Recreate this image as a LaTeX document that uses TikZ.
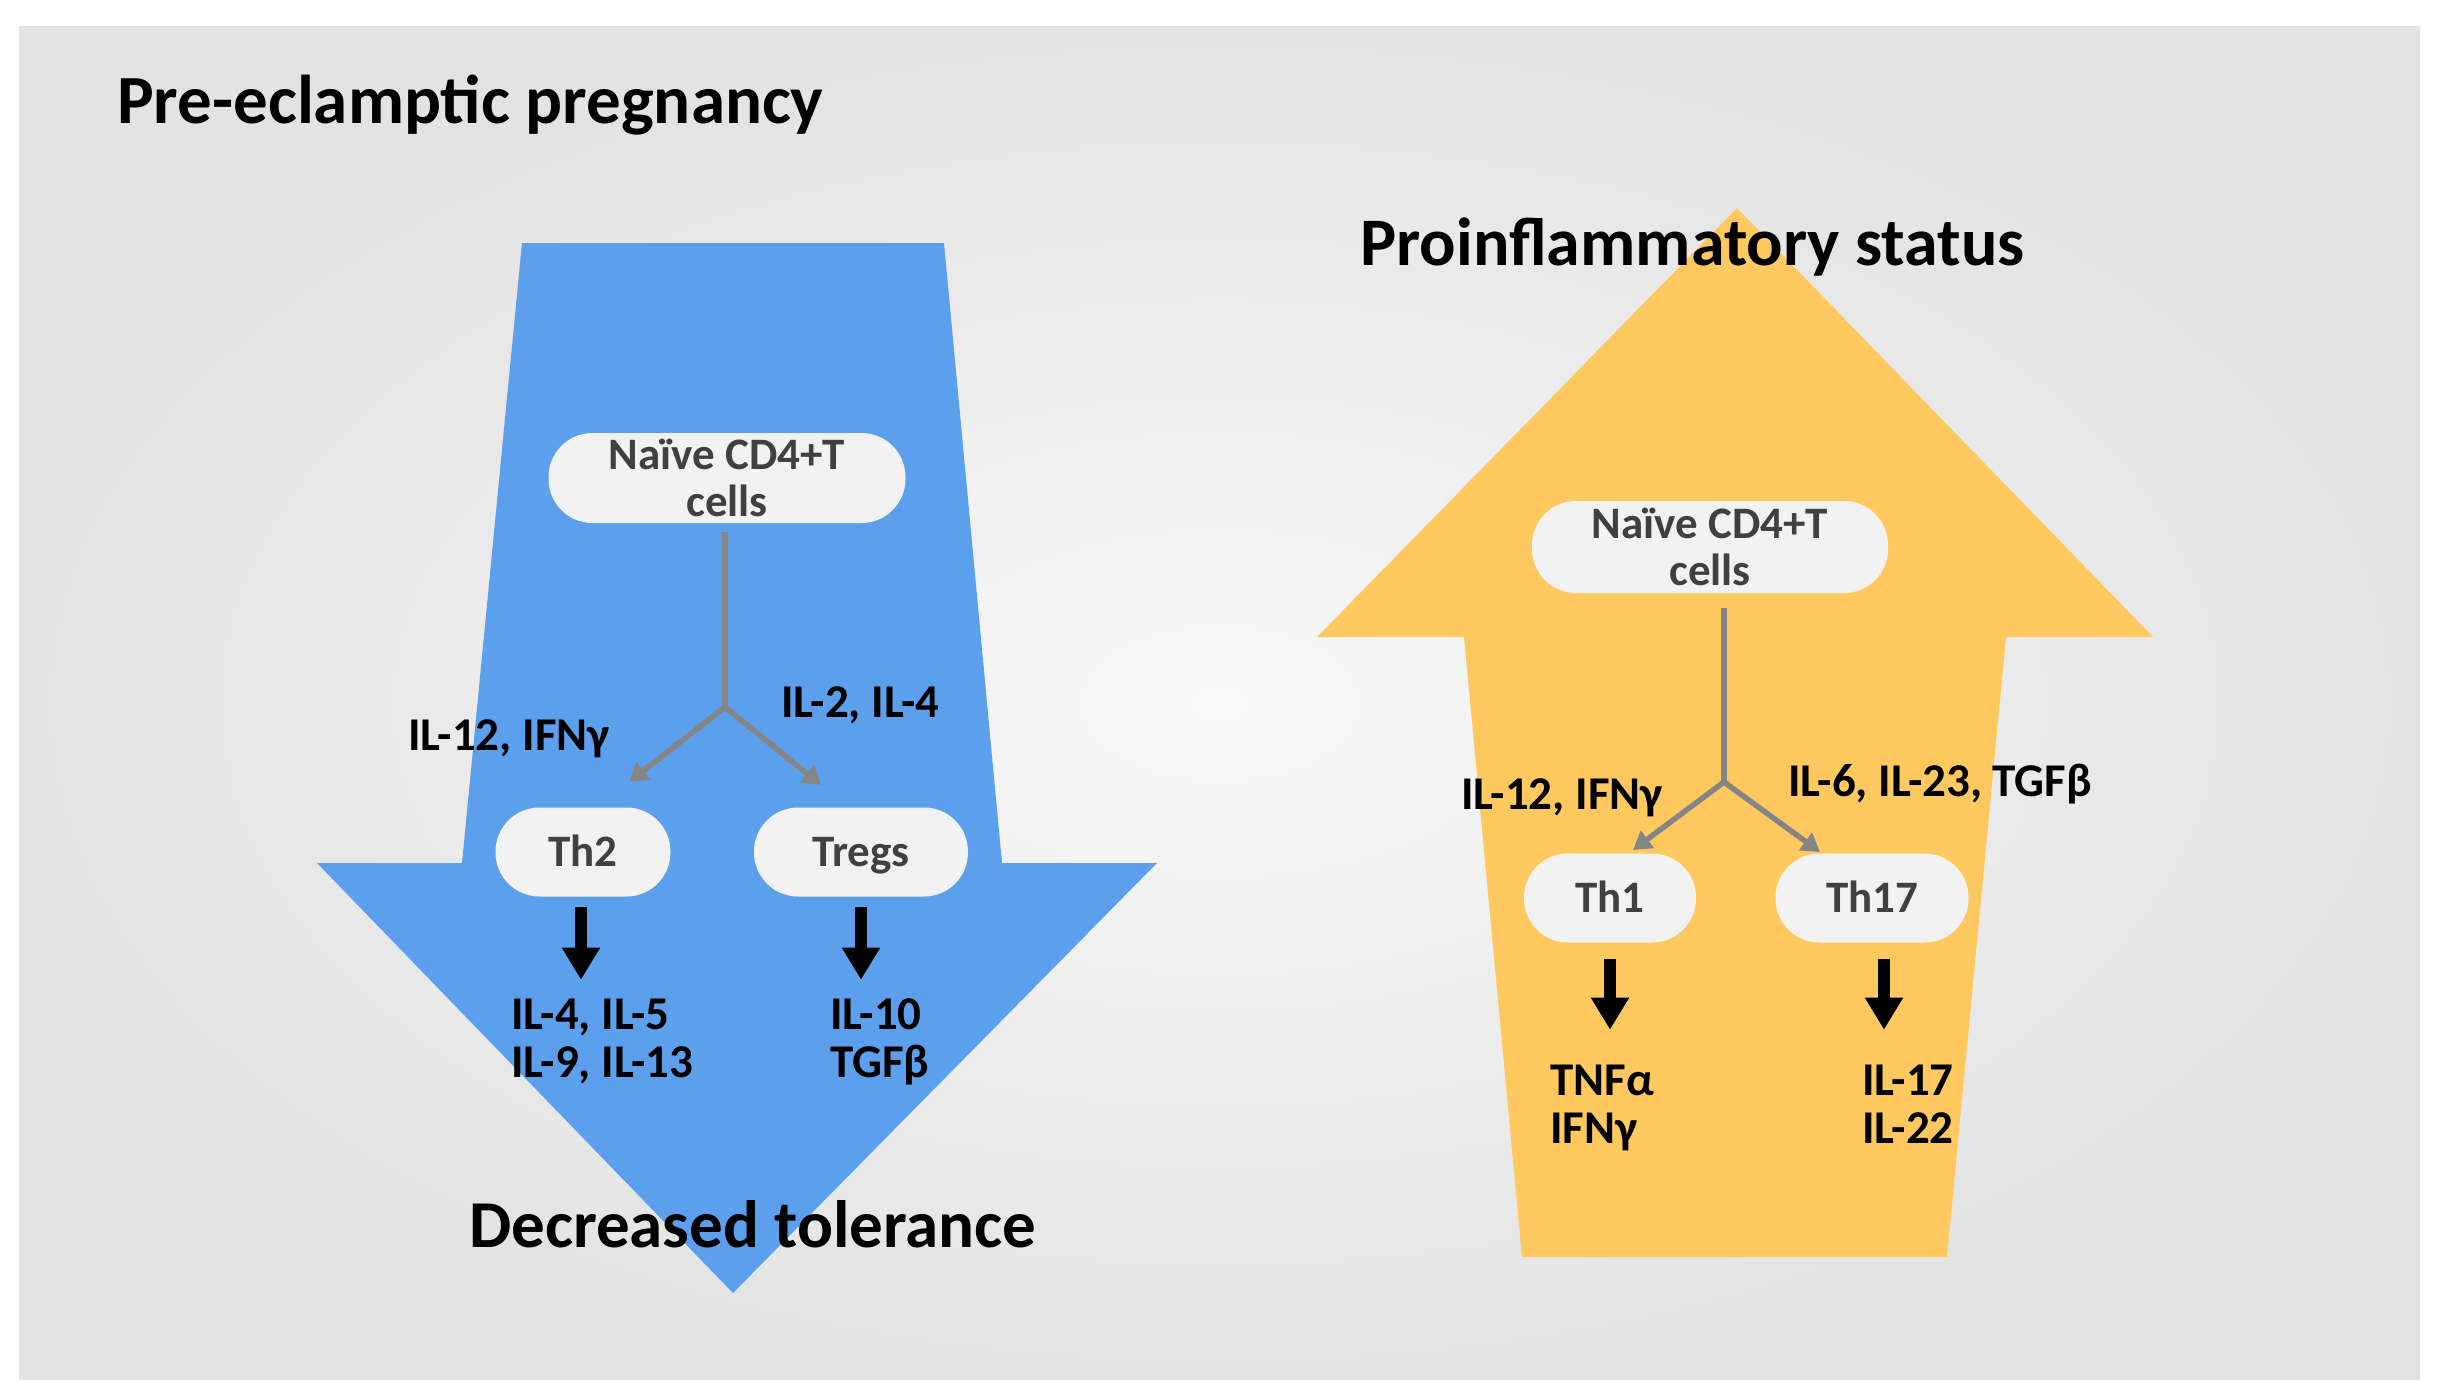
\documentclass[tikz,border=0pt]{standalone}
\usepackage{fontspec}
\setmainfont{Carlito}
\usetikzlibrary{arrows.meta}
\definecolor{bgin}{HTML}{F8F8F8}
\definecolor{bgout}{HTML}{E3E3E3}
\definecolor{blueA}{HTML}{5C9FEC}
\definecolor{orangeA}{HTML}{FFC960}
\definecolor{boxfill}{HTML}{F2F2F2}
\definecolor{boxtext}{HTML}{404040}
\definecolor{conn}{HTML}{858585}
\tikzset{
  cellbox/.style={fill=boxfill, rounded corners=44pt, inner sep=0pt, text=boxtext,
    font=\bfseries\fontsize{45}{47}\selectfont, align=center},
  onecell/.style={cellbox, text height=28pt, text depth=0pt},
  lbl/.style={inner sep=0pt, anchor=base west, font=\bfseries\fontsize{47}{48}\selectfont, align=left},
  ttl/.style={inner sep=0pt, anchor=base west, font=\bfseries\fontsize{68}{72}\selectfont},
  grayarr/.style={draw=conn, line width=5.5pt, -{Triangle[width=21pt,length=18pt]}},
  grayline/.style={draw=conn, line width=5.5pt},
  blkarr/.style={draw=black, line width=12pt, -{Triangle[width=36pt,length=32pt]}}
}
\begin{document}
\begin{tikzpicture}[x=1pt,y=-1pt]
\useasboundingbox (0,0) rectangle (2449,1397);
\fill[white] (0,0) rectangle (2449,1397);
\shade[inner color=bgin, outer color=bgout] (19,27) rectangle (2420,1379);
% big arrows
\fill[blueA] (522,243) -- (944,243) -- (1002,863) -- (1157,863) -- (733,1293) -- (317,863) -- (462,863) -- cycle;
\fill[orangeA] (1737,208) -- (2153,637) -- (2006,637) -- (1947,1257) -- (1522,1257) -- (1464,637) -- (1317,637) -- cycle;
% titles
\node[ttl, font=\bfseries\fontsize{69}{72}\selectfont] (t1) at (117,123) {Pre-eclamptic pregnancy};
\node[ttl, font=\bfseries\fontsize{68}{72}\selectfont] (t2) at (1360,265) {Proinflammatory status};
\node[ttl, font=\bfseries\fontsize{67}{72}\selectfont] (t3) at (469,1247) {Decreased tolerance};
% left panel
\node[cellbox, minimum width=357pt, minimum height=90pt] (nvL) at (727,478) {Naïve CD4+T\\cells};
\node[onecell, minimum width=175pt, minimum height=89pt] (th2) at (583,852) {Th2};
\node[onecell, minimum width=214pt, minimum height=89pt] (treg) at (861,852) {Tregs};
\coordinate (bL) at (725,707);
\coordinate (eL1) at (629,782);
\coordinate (eL2) at (821,785);
\draw[grayline, shorten <=9pt] (nvL.south -| bL) -- (bL);
\draw[grayarr] (bL) -- (eL1);
\draw[grayarr] (bL) -- (eL2);
\node[lbl] (lL1) at (408,750) {IL-12, IFNγ};
\node[lbl] (lL2) at (781,717) {IL-2, IL-4};
\draw[blkarr] ([xshift=-2pt,yshift=-10pt]th2.south) -- ++(0,73);
\draw[blkarr] ([yshift=-10pt]treg.south) -- ++(0,73);
\node[lbl] (cL1) at (511,1077) {IL-4, IL-5\\IL-9, IL-13};
\node[lbl] (cL2) at (830,1077) {IL-10\\TGFβ};
% right panel
\node[cellbox, minimum width=356pt, minimum height=92pt] (nvR) at (1710,547) {Naïve CD4+T\\cells};
\node[onecell, minimum width=172pt, minimum height=89pt] (th1) at (1610,898) {Th1};
\node[onecell, minimum width=193pt, minimum height=89pt] (th17) at (1872,898) {Th17};
\coordinate (bR) at (1724,782);
\coordinate (eR1) at (1633,850);
\coordinate (eR2) at (1820,852);
\draw[grayline, shorten <=15pt] (nvR.south -| bR) -- (bR);
\draw[grayarr] (bR) -- (eR1);
\draw[grayarr] (bR) -- (eR2);
\node[lbl] (lR1) at (1461,809) {IL-12, IFNγ};
\node[lbl] (lR2) at (1788,796) {IL-6, IL-23, TGFβ};
\draw[blkarr] ([yshift=-16pt]th1.south) -- ++(0,71);
\draw[blkarr] ([xshift=12pt,yshift=-16pt]th17.south) -- ++(0,71);
\node[lbl] (cR1) at (1550,1143) {TNFα\\IFNγ};
\node[lbl] (cR2) at (1862,1143) {IL-17\\IL-22};
\end{tikzpicture}
\end{document}
